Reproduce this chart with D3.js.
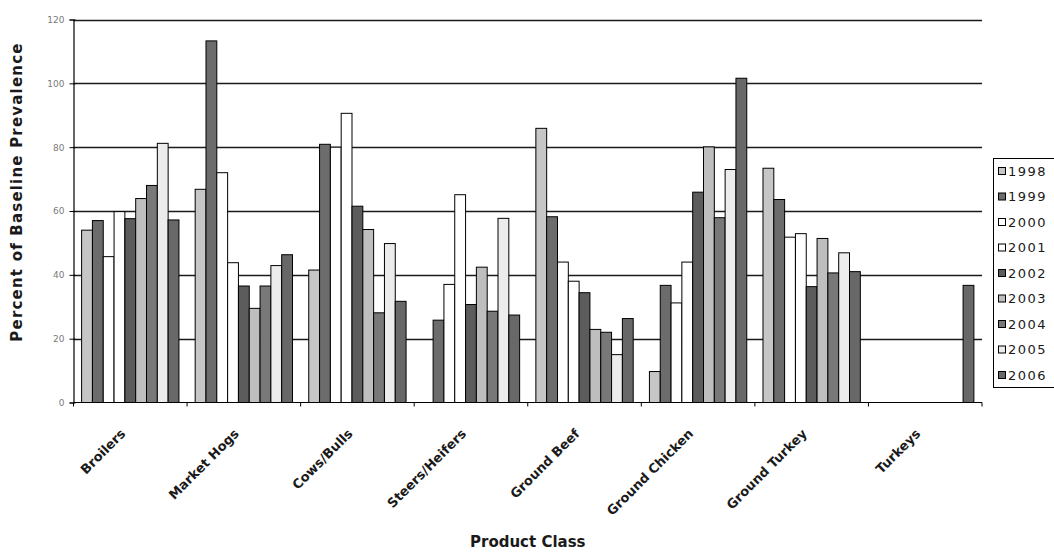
<!DOCTYPE html>
<html>
<head>
<meta charset="utf-8">
<script src="https://cdn.jsdelivr.net/npm/d3@7"></script>
<style>
  html, body { margin: 0; padding: 0; background: #fff; }
  svg { display: block; }
</style>
</head>
<body>
<script>
const categories = ["Broilers", "Market Hogs", "Cows/Bulls", "Steers/Heifers", "Ground Beef", "Ground Chicken", "Ground Turkey", "Turkeys"];
const years = ["1998", "1999", "2000", "2001", "2002", "2003", "2004", "2005", "2006"];
const v1998 = [54, 66.8, 41.5, null, 85.9, 9.7, 73.4, null];
const v1999 = [57, 113.3, 80.9, 25.8, 58.2, 36.7, 63.6, null];
const v2000 = [45.7, 72, 80, 37, 44, 31.2, 51.8, null];
const v2001 = [59.8, 43.8, 90.6, 65.1, 38, 44, 52.9, null];
const v2002 = [57.6, 36.5, 61.5, 30.7, 34.4, 65.9, 36.3, null];
const v2003 = [63.9, 29.5, 54.2, 42.4, 22.9, 80.1, 51.4, null];
const v2004 = [68, 36.5, 28.1, 28.6, 22, 57.9, 40.6, null];
const v2005 = [81.2, 42.9, 49.8, 57.7, 15, 73, 46.9, null];
const v2006 = [57.2, 46.3, 31.7, 27.4, 26.3, 101.6, 41, 36.7];
const yTicks = [0, 20, 40, 60, 80, 100, 120];

const seriesValues = [v1998, v1999, v2000, v2001, v2002, v2003, v2004, v2005, v2006];
const fills = ["#c6c6c6", "#6c6c6c", "#ffffff", "#ffffff", "#5c5c5c", "#bebebe", "#787878", "#ececec", "#686868"];

const W = 1054, H = 555;
const plot = { left: 73.5, right: 982, top: 19.5, bottom: 402.5 };

const svg = d3.select("body").append("svg").attr("width", W).attr("height", H);

const x = d3.scaleBand().domain(categories).range([plot.left, plot.right]).paddingInner(0).paddingOuter(0);
const xi = d3.scaleBand().domain(years).range([0, x.bandwidth()]).paddingInner(0).paddingOuter(0.75);
const y = d3.scaleLinear().domain([0, 120]).range([plot.bottom, plot.top]);

// gridlines
svg.append("g")
  .selectAll("line")
  .data(yTicks.filter(d => d > 0))
  .join("line")
  .attr("x1", plot.left).attr("x2", plot.right)
  .attr("y1", d => Math.round(y(d)) + 0.5).attr("y2", d => Math.round(y(d)) + 0.5)
  .attr("stroke", "#1a1a1a").attr("stroke-width", 1.3);

// bars
const data = [];
years.forEach((yr, si) => {
  categories.forEach((cat, ci) => {
    const v = seriesValues[si][ci];
    if (v != null) data.push({ yr, si, cat, v });
  });
});

svg.append("g")
  .selectAll("rect")
  .data(data)
  .join("rect")
  .attr("x", d => x(d.cat) + xi(d.yr))
  .attr("y", d => y(d.v))
  .attr("width", xi.bandwidth())
  .attr("height", d => plot.bottom - y(d.v))
  .attr("fill", d => fills[d.si])
  .attr("stroke", "#000")
  .attr("stroke-width", 1);

// y axis
const yAxis = d3.axisLeft(y).tickValues(yTicks).tickSize(4).tickPadding(5);
const gy = svg.append("g").attr("transform", `translate(${plot.left},0)`).call(yAxis);
gy.select(".domain").attr("stroke", "#000").attr("stroke-width", 1.2);
gy.selectAll(".tick line").attr("stroke", "#000").attr("x2", -4).attr("x1", 2);
gy.selectAll(".tick text").attr("fill", "#7a7a7a").attr("font-family", "DejaVu Sans").attr("font-size", 9);

// x axis
const gx = svg.append("g").attr("transform", `translate(0,${plot.bottom})`);
gx.append("line").attr("x1", plot.left).attr("x2", plot.right).attr("y1", 0).attr("y2", 0)
  .attr("stroke", "#000").attr("stroke-width", 1.2);
const boundaries = categories.map(c => x(c)).concat([plot.right]);
gx.selectAll("line.tk").data(boundaries).join("line").attr("class", "tk")
  .attr("x1", d => d).attr("x2", d => d).attr("y1", 0).attr("y2", 4)
  .attr("stroke", "#000").attr("stroke-width", 1);

gx.selectAll("text.cat").data(categories).join("text").attr("class", "cat")
  .attr("transform", d => `translate(${x(d) + x.bandwidth() / 2 - 4},${32}) rotate(-45)`)
  .attr("text-anchor", "end")
  .attr("font-family", "DejaVu Sans").attr("font-weight", "bold").attr("font-size", 13)
  .attr("fill", "#1a1a1a")
  .text(d => d);

// axis titles
svg.append("text")
  .attr("transform", `translate(22,${192}) rotate(-90)`)
  .attr("text-anchor", "middle")
  .attr("font-family", "DejaVu Sans").attr("font-weight", "bold").attr("font-size", 15)
  .attr("letter-spacing", 1.2)
  .attr("fill", "#1a1a1a")
  .text("Percent of Baseline Prevalence");

svg.append("text")
  .attr("x", (plot.left + plot.right) / 2).attr("y", 547)
  .attr("text-anchor", "middle")
  .attr("font-family", "DejaVu Sans").attr("font-weight", "bold").attr("font-size", 15)
  .attr("fill", "#1a1a1a")
  .text("Product Class");

// legend
const lg = svg.append("g");
lg.append("rect").attr("x", 993.5).attr("y", 158.5).attr("width", 70).attr("height", 229)
  .attr("fill", "#fff").attr("stroke", "#000").attr("stroke-width", 1);
const items = lg.selectAll("g.item").data(years).join("g").attr("class", "item")
  .attr("transform", (d, i) => `translate(998,${171 + i * 25.5})`);
items.append("rect").attr("x", 0.5).attr("y", -3.5).attr("width", 7).attr("height", 7)
  .attr("fill", (d, i) => fills[i]).attr("stroke", "#000").attr("stroke-width", 1);
items.append("text").attr("x", 10).attr("y", 0).attr("dy", "0.36em")
  .attr("font-family", "DejaVu Sans").attr("font-size", 13).attr("letter-spacing", 1.5)
  .attr("fill", "#1a1a1a")
  .text(d => d);
</script>
</body>
</html>
